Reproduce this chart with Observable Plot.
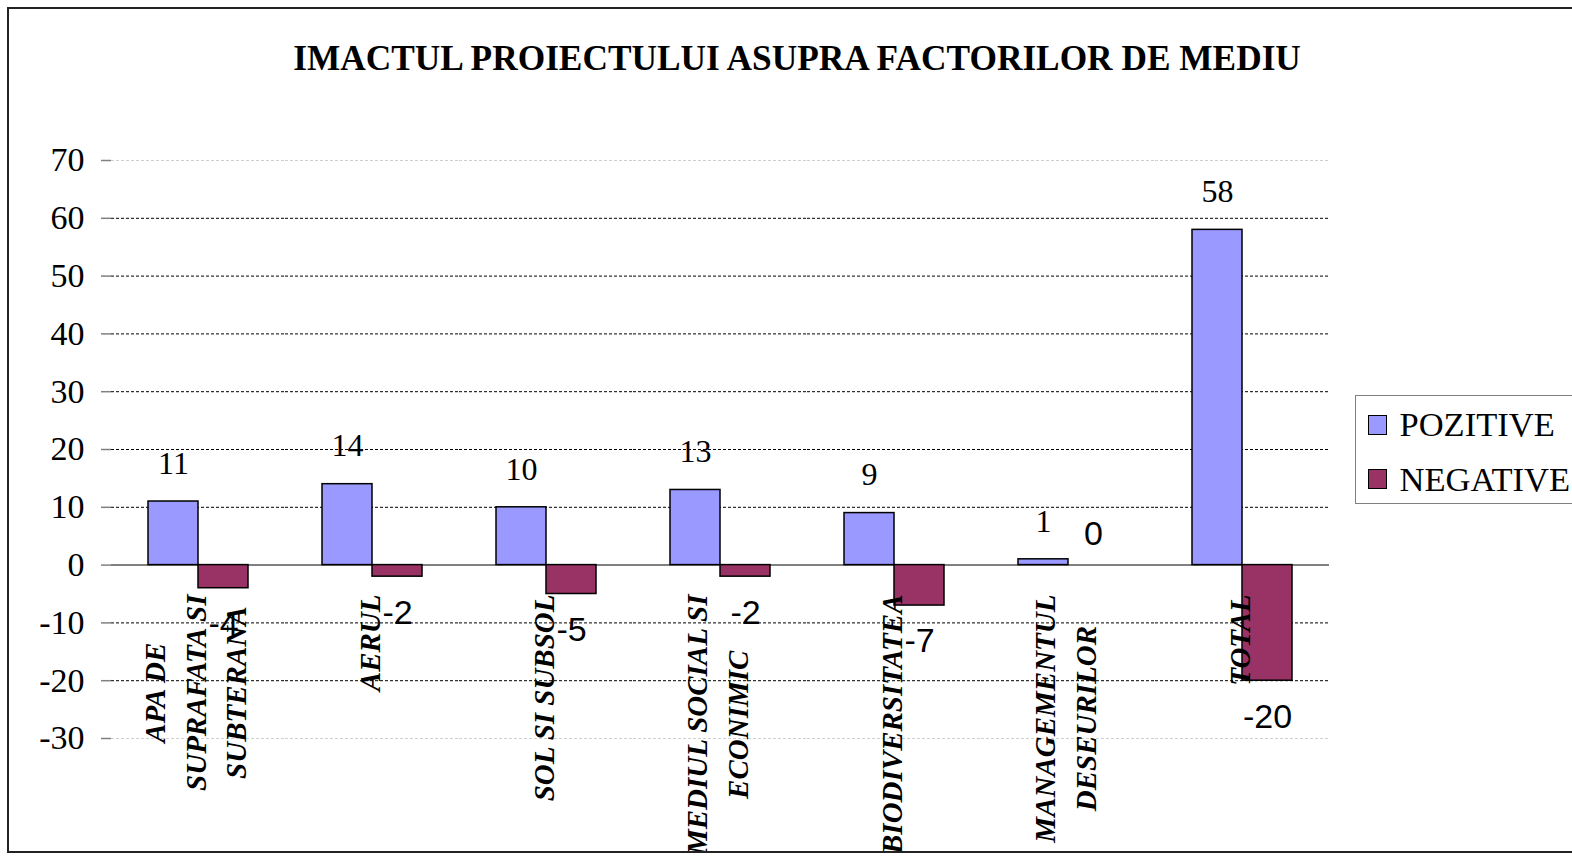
<!DOCTYPE html>
<html><head><meta charset="utf-8">
<script src="https://cdn.jsdelivr.net/npm/d3@7"></script>
<script src="https://cdn.jsdelivr.net/npm/@observablehq/plot@0.6"></script>
<style>
html,body{margin:0;padding:0;background:#fff;overflow:hidden;width:1572px;height:857px}
#frame{position:absolute;left:7px;top:7px;width:1600px;height:846px;border:2px solid #222;box-sizing:border-box;overflow:hidden;background:#fff}
#inner{position:absolute;left:-9px;top:-9px;width:1572px;height:857px}
#title{position:absolute;left:0;width:1594px;top:41px;text-align:center;font:bold 35.3px/35px "Liberation Serif","Times New Roman",serif;white-space:nowrap;color:#000}
#legend{position:absolute;left:1355px;top:395px;width:260px;height:109px;border:1.5px solid #808080;box-sizing:border-box;background:#fff}
.sw{position:absolute;width:19px;height:20px;border:1.5px solid #000;box-sizing:border-box}
.lt{position:absolute;font:34.5px/34px "Liberation Serif","Times New Roman",serif;white-space:nowrap;color:#000}
#chart{position:absolute;left:0;top:0}
</style></head><body>
<div id="frame"><div id="inner">
<div id="title">IMACTUL PROIECTULUI ASUPRA FACTORILOR DE MEDIU</div>
<div id="chart"></div>
<div id="legend"></div>
</div></div>
<script>
const categories = [
  "APA DE\nSUPRAFATA SI\nSUBTERANA",
  "AERUL",
  "SOL SI SUBSOL",
  "MEDIUL SOCIAL SI\nECONIMIC",
  "BIODIVERSITATEA",
  "MANAGEMENTUL\nDESEURILOR",
  "TOTAL"
];
const seriesNames = ["POZITIVE", "NEGATIVE"];
const pozitive = [11, 14, 10, 13, 9, 1, 58];
const negative = [-4, -2, -5, -2, -7, 0, -20];
const yTicks = [-30, -20, -10, 0, 10, 20, 30, 40, 50, 60, 70];
const colors = ["#9999FF", "#993366"];

const rows = categories.flatMap((c, i) => [
  {cat: c, series: seriesNames[0], value: pozitive[i]},
  {cat: c, series: seriesNames[1], value: negative[i]}
]);

const W = 1572, H = 857, mL = 110, mR = 243, mT = 160, mB = 119;
const step = (W - mL - mR) / categories.length;
const serif = "Liberation Serif, Times New Roman, serif";
const sans = "Liberation Sans, Arial, sans-serif";
const yMin = yTicks[0], yMax = yTicks[yTicks.length - 1];

const chart = Plot.plot({
  width: W, height: H,
  marginLeft: mL, marginRight: mR, marginTop: mT, marginBottom: mB,
  style: {background: "transparent", overflow: "visible", fontFamily: serif},
  fx: {domain: categories, padding: 0, axis: null, label: null},
  x: {domain: seriesNames, paddingInner: 0, paddingOuter: 0.74, axis: null, label: null},
  y: {domain: [yMin, yMax], label: null},
  color: {domain: seriesNames, range: colors},
  marks: [
    Plot.ruleY(yTicks.filter(t => t !== 0 && t !== yMin && t !== yMax), {stroke: "#000", strokeDasharray: "3,2", strokeWidth: 1}),
    Plot.ruleY([yMin, yMax], {stroke: "#cfcfcf", strokeDasharray: "3,2", strokeWidth: 1}),
    Plot.ruleY([0], {stroke: "#808080", strokeWidth: 2}),
    Plot.ruleX([categories[0]], {fx: d => d, dx: -step / 2, stroke: "#808080", strokeWidth: 2}),
    Plot.ruleX(categories, {fx: d => d, y1: 0, y2: 0, insetTop: 10, dx: -step / 2, stroke: "#808080", strokeWidth: 1.5}),
    Plot.ruleX([categories[categories.length - 1]], {fx: d => d, y1: 0, y2: 0, insetTop: 10, dx: step / 2, stroke: "#808080", strokeWidth: 1.5}),
    Plot.axisY(yTicks, {tickSize: 10, tickPadding: 17, fontSize: 34, fontFamily: serif, stroke: "#808080", fill: "#000", strokeWidth: 1.5, tickFormat: d => String(d), label: null}),
    Plot.barY(rows.filter(d => d.value !== 0), {fx: "cat", x: "series", y: "value", fill: "series", stroke: "#000", strokeWidth: 1.5}),
    Plot.text(rows.filter(d => d.series === seriesNames[0]), {fx: "cat", x: "series", y: "value", text: d => String(d.value), dy: -38, fontSize: 32, fontFamily: serif, fill: "#000"}),
    Plot.text(rows.filter(d => d.series === seriesNames[1] && d.value < 0), {fx: "cat", x: "series", y: "value", text: d => String(d.value), dy: 36, fontSize: 34, fontFamily: sans, fill: "#000"}),
    Plot.text(rows.filter(d => d.series === seriesNames[1] && d.value >= 0), {fx: "cat", x: "series", y: "value", text: d => String(d.value), dy: -31, fontSize: 34, fontFamily: sans, fill: "#000"}),
    Plot.text(categories, {fx: d => d, text: d => d, frameAnchor: "bottom", dx: -6, dy: -144, rotate: -90, textAnchor: "end", lineAnchor: "middle", lineHeight: 1.4, fontSize: 29, fontWeight: "bold", fontStyle: "italic", fontFamily: serif, fill: "#000"})
  ]
});
document.getElementById("chart").appendChild(chart);

// center each line of multi-line category labels on the longest one
chart.querySelectorAll('g[font-style="italic"] text').forEach(t => {
  const spans = t.querySelectorAll("tspan");
  if (spans.length < 2) return;
  const maxLen = Math.max(...[...spans].map(s => s.getComputedTextLength()));
  t.setAttribute("text-anchor", "middle");
  spans.forEach(s => s.setAttribute("x", -maxLen / 2));
});

// legend
const legend = document.getElementById("legend");
seriesNames.forEach((name, i) => {
  const sw = document.createElement("div");
  sw.className = "sw";
  sw.style.left = "11.5px";
  sw.style.top = (18.5 + i * 54) + "px";
  sw.style.background = colors[i];
  legend.appendChild(sw);
  const lt = document.createElement("div");
  lt.className = "lt";
  lt.style.left = "43.5px";
  lt.style.top = (11 + i * 55) + "px";
  lt.textContent = name;
  legend.appendChild(lt);
});
</script>
</body></html>
